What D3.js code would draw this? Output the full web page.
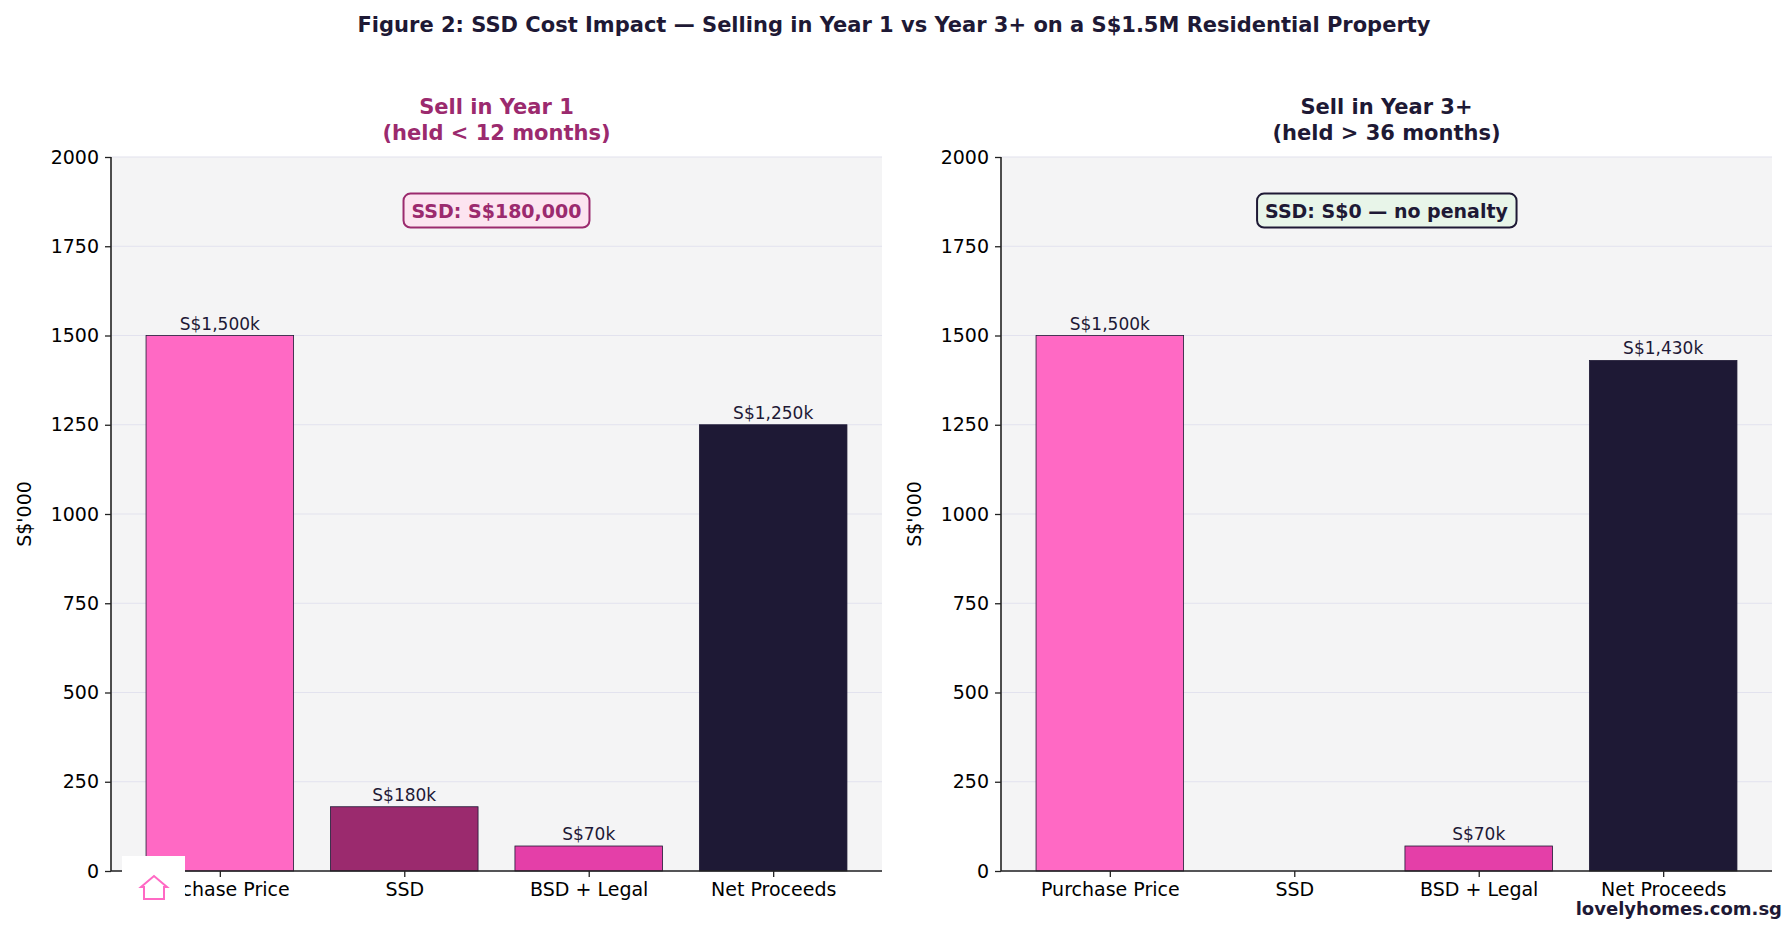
<!DOCTYPE html>
<html>
<head>
<meta charset="utf-8">
<script src="https://cdn.jsdelivr.net/npm/d3@7"></script>
<style>
  body { margin: 0; background: #fff; }
  text { font-family: "DejaVu Sans", sans-serif; }
</style>
</head>
<body>
<svg width="1788" height="930"></svg>
<script>
var categories = ["Purchase Price", "SSD", "BSD + Legal", "Net Proceeds"];
var year1Values = [1500, 180, 70, 1250];
var year3Values = [1500, 0, 70, 1430];
var yTicks = [0, 250, 500, 750, 1000, 1250, 1500, 1750, 2000];
var barColors = ["#ff69c4", "#9b2a6e", "#e43fa8", "#1e1935"];

var svg = d3.select("svg");

svg.append("text")
    .attr("x", 894).attr("y", 32)
    .attr("text-anchor", "middle")
    .attr("font-size", 21).attr("font-weight", "bold")
    .attr("fill", "#1e1935")
    .text("Figure 2: SSD Cost Impact \u2014 Selling in Year 1 vs Year 3+ on a S$1.5M Residential Property");

var panels = [
    { left: 111, values: year1Values, title: ["Sell in Year 1", "(held < 12 months)"], titleColor: "#9b2a6e",
      note: "SSD: S$180,000", noteFill: "#fce4f0", noteStroke: "#9b2a6e", noteColor: "#9b2a6e" },
    { left: 1005, values: year3Values, title: ["Sell in Year 3+", "(held > 36 months)"], titleColor: "#1e1935",
      note: "SSD: S$0 \u2014 no penalty", noteFill: "#e8f5e9", noteStroke: "#1e1935", noteColor: "#1e1935" }
];

var width = 773, height = 714, topM = 157;
panels[1].left = 1001;
width = 771;

panels.forEach(function (p) {
    var g = svg.append("g").attr("transform", "translate(" + p.left + "," + topM + ")");

    var x = d3.scaleLinear().domain([-0.59, 3.59]).range([0, width]);
    var y = d3.scaleLinear().domain([0, 2000]).range([height, 0]);
    var bw = x(0.8) - x(0);

    g.append("rect").attr("width", width).attr("height", height).attr("fill", "#f4f4f5");

    g.selectAll(".grid").data(yTicks).enter().append("line")
        .attr("x1", 0).attr("x2", width)
        .attr("y1", function (d) { return y(d); })
        .attr("y2", function (d) { return y(d); })
        .attr("stroke", "#e2e2ee").attr("stroke-width", 1.2);

    // bars
    g.selectAll(".bar").data(p.values).enter().append("rect")
        .attr("x", function (d, i) { return x(i) - bw / 2; })
        .attr("y", function (d) { return y(d); })
        .attr("width", bw)
        .attr("height", function (d) { return height - y(d); })
        .attr("fill", function (d, i) { return barColors[i]; })
        .attr("stroke", function (d) { return d > 0 ? "#1e1935" : "none"; })
        .attr("stroke-width", 0.8);

    g.selectAll(".lbl").data(p.values).enter()
        .append("text")
        .attr("x", function (d, i) { return x(i); })
        .attr("y", function (d) { return y(d) - 6; })
        .attr("text-anchor", "middle")
        .attr("font-size", 17).attr("fill", "#1e1935")
        .text(function (d) { return d > 0 ? "S$" + d3.format(",")(d) + "k" : ""; });

    // axes
    var ax = g.append("g").attr("transform", "translate(0," + height + ")")
        .call(d3.axisBottom(x).tickValues([0, 1, 2, 3]).tickFormat(function (d) { return categories[d]; }).tickSize(6).tickPadding(6));
    var ay = g.append("g")
        .call(d3.axisLeft(y).tickValues(yTicks).tickFormat(d3.format("d")).tickSize(6).tickPadding(6));
    [ax, ay].forEach(function (a) {
        a.selectAll("text").attr("font-size", 19).attr("fill", "#000").style("font-family", "DejaVu Sans");
        a.select(".domain").attr("stroke", "#222").attr("stroke-width", 1.6);
        a.selectAll(".tick line").attr("stroke", "#222").attr("stroke-width", 1.3);
    });
    ax.select(".domain").attr("d", "M0,0H" + width);
    ay.select(".domain").attr("d", "M0,0V" + height);

    g.append("text")
        .attr("transform", "translate(-80," + height / 2 + ") rotate(-90)")
        .attr("text-anchor", "middle").attr("font-size", 19).attr("fill", "#000")
        .text("S$'000");

    p.title.forEach(function (t, i) {
        g.append("text")
            .attr("x", width / 2).attr("y", -43 + i * 26)
            .attr("text-anchor", "middle")
            .attr("font-size", 21).attr("font-weight", "bold")
            .attr("fill", p.titleColor).text(t);
    });

    // note box
    var nt = g.append("text")
        .attr("x", width / 2).attr("y", y(1850) + 7)
        .attr("text-anchor", "middle")
        .attr("font-size", 19).attr("font-weight", "bold")
        .attr("fill", p.noteColor).text(p.note);
    var bb = nt.node().getBBox();
    g.append("rect")
        .attr("x", bb.x - 8).attr("y", bb.y - 6)
        .attr("width", bb.width + 16).attr("height", bb.height + 12)
        .attr("rx", 7)
        .attr("fill", p.noteFill).attr("stroke", p.noteStroke).attr("stroke-width", 2);
    nt.raise();
});

// logo
svg.append("rect").attr("x", 122).attr("y", 856).attr("width", 63).attr("height", 75).attr("fill", "#fff");
svg.append("path")
    .attr("d", "M144,899 L144,887 L141,887 L154,876 L167,887 L164,887 L164,899 Z")
    .attr("fill", "none").attr("stroke", "#ff69c4").attr("stroke-width", 2);

svg.append("text")
    .attr("x", 1782).attr("y", 915)
    .attr("text-anchor", "end")
    .attr("font-size", 18).attr("font-weight", "bold")
    .attr("fill", "#1e1935").text("lovelyhomes.com.sg");
</script>
</body>
</html>
